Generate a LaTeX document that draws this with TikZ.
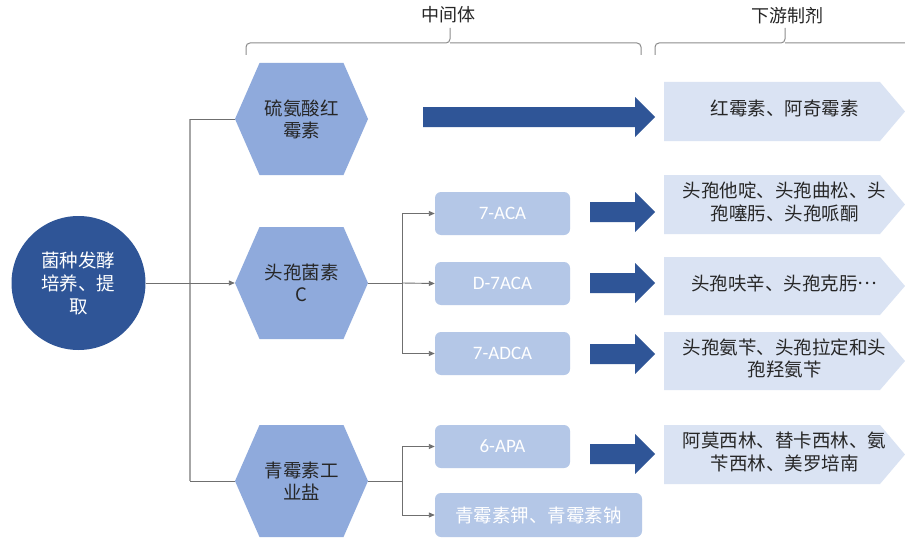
\documentclass[tikz,border=0pt]{standalone}
\usepackage{fontspec}
\setmainfont{Carlito}
\newfontfamily\cjk{Noto Sans CJK SC}
\usetikzlibrary{calc,arrows.meta}
\definecolor{darkblue}{HTML}{2F5597}
\definecolor{hexblue}{HTML}{8FAADC}
\definecolor{boxblue}{HTML}{B4C7E7}
\definecolor{chevblue}{HTML}{DAE3F3}
\definecolor{linegray}{HTML}{6F6F6F}
\definecolor{trunkgray}{HTML}{A6A6A6}
\definecolor{bracegray}{HTML}{8C8C8C}
\definecolor{textdark}{HTML}{262626}
\newcommand\cjkfont{\cjk\fontsize{18.5}{22}\selectfont}
\newcommand\circfont{\cjk\fontsize{18.5}{23}\selectfont}
\newcommand\chevtxt[1]{\begin{tabular}{@{}c@{}}#1\end{tabular}\hspace{13pt}}
\newcommand\fatarrow[3]{%
  \fill[darkblue] (#1,#3-10) -- (#2-20,#3-10) -- (#2-20,#3-20) -- (#2,#3)
    -- (#2-20,#3+20) -- (#2-20,#3+10) -- (#1,#3+10) -- cycle;}
\tikzset{
  hexnode/.style={minimum width=133pt, minimum height=112pt, inner sep=0pt,
    align=center, font=\cjkfont, text=textdark,
    path picture={\fill[hexblue] (path picture bounding box.west)
      -- ($(path picture bounding box.north west)+(24.5pt,0pt)$)
      -- ($(path picture bounding box.north east)+(-24.5pt,0pt)$)
      -- (path picture bounding box.east)
      -- ($(path picture bounding box.south east)+(-24.5pt,0pt)$)
      -- ($(path picture bounding box.south west)+(24.5pt,0pt)$) -- cycle;}},
  chev/.style={minimum width=241pt, minimum height=59pt, inner sep=0pt,
    font=\cjkfont, text=textdark,
    path picture={\fill[chevblue] (path picture bounding box.north west)
      -- ($(path picture bounding box.north east)+(-25pt,0pt)$)
      -- (path picture bounding box.east)
      -- ($(path picture bounding box.south east)+(-25pt,0pt)$)
      -- (path picture bounding box.south west) -- cycle;}},
  smallbox/.style={rounded corners=6pt, fill=boxblue, text=white,
    minimum width=135pt, minimum height=43pt, inner sep=0pt,
    font=\fontsize{19}{22}\selectfont},
  conn/.style={draw=linegray, line width=0.9pt},
  trunk/.style={draw=trunkgray, line width=1.3pt},
  arr/.style={conn, -{Triangle[length=6pt,width=5pt]}},
  bracel/.style={draw=bracegray, line width=1pt, rounded corners=4pt},
  toplabel/.style={font=\cjk\fontsize{18}{20}\selectfont, text=textdark}
}
\begin{document}
\begin{tikzpicture}[x=1pt,y=-1pt]
\fill[white] (0,0) rectangle (905,543);
\useasboundingbox (0,0) rectangle (905,543);

% top braces and labels
\node[toplabel] (lbl1) at (448,15) {中间体};
\node[toplabel] (lbl2) at (787,16) {下游制剂};
\draw[bracel] (246,55) -- (246,43) -- (450,43) -- (450,28);
\draw[bracel] (641,55) -- (641,43) -- (450,43);
\draw[bracel] (655,55) -- (655,43) -- (785,43) -- (785,28);
\draw[bracel] (925,55) -- (925,43) -- (785,43);

% source circle
\node[circle, fill=darkblue, minimum size=134pt, inner sep=0pt, text=white,
      align=center, font=\circfont] (c) at (78.5,283) {菌种发酵\\培养、提\\取};

% hexagons
\node[hexnode] (h1) at (301.5,119) {硫氨酸红\\霉素};
\node[hexnode] (h2) at (301.5,283) {头孢菌素\\C};
\node[hexnode] (h3) at (301.5,481) {青霉素工\\业盐};

% intermediate boxes
\node[smallbox] (a1) at (502.5,213.5) {7-ACA};
\node[smallbox] (a2) at (502.5,283.5) {D-7ACA};
\node[smallbox] (a3) at (502.5,353.5) {7-ADCA};
\node[smallbox] (b1) at (502.5,446.5) {6-APA};
\node[smallbox, minimum width=207pt, minimum height=44pt, font=\cjkfont] (b2) at (538.5,515) {青霉素钾、青霉素钠};

% downstream chevrons
\node[chev] (d1) at (784.5,111.5) {\chevtxt{红霉素、阿奇霉素}};
\node[chev] (d2) at (784.5,204.5) {\chevtxt{头孢他啶、头孢曲松、头\\孢噻肟、头孢哌酮}};
\node[chev, minimum height=58pt] (d3) at (784.5,286) {\chevtxt{头孢呋辛、头孢克肟\raisebox{.3em}{…}}};
\node[chev, minimum height=58pt] (d4) at (784.5,361) {\chevtxt{头孢氨苄、头孢拉定和头\\孢羟氨苄}};
\node[chev] (d5) at (784.5,454.5) {\chevtxt{阿莫西林、替卡西林、氨\\苄西林、美罗培南}};

% main connectors
\coordinate (j) at (190,283);
\draw[trunk] (h1.west -| j) -- (h3.west -| j);
\draw[conn] (c.east) -- (j);
\draw[arr] (j) -- (h2.west);
\draw[conn] (h1.west -| j) -- (h1.west);
\draw[conn] (h3.west -| j) -- (h3.west);

% branch from h2
\coordinate (j2) at (402,283);
\draw[conn] (h2.east) -- (j2);
\draw[conn] (a1.west -| j2) -- (a3.west -| j2);
\draw[arr] (a1.west -| j2) -- (a1.west);
\draw[arr] (j2) -- (a2.west);
\draw[arr] (a3.west -| j2) -- (a3.west);

% branch from h3
\coordinate (j3) at (402,481);
\draw[conn] (h3.east) -- (j3);
\draw[conn] (b1.west -| j3) -- (b2.west -| j3);
\draw[arr] (b1.west -| j3) -- (b1.west);
\draw[arr] (b2.west -| j3) -- (b2.west);

% big arrows
\fatarrow{423}{655}{117}
\fatarrow{590}{655}{212}
\fatarrow{590}{655}{283}
\fatarrow{590}{655}{354}
\fatarrow{590}{655}{454}
\end{tikzpicture}
\end{document}
